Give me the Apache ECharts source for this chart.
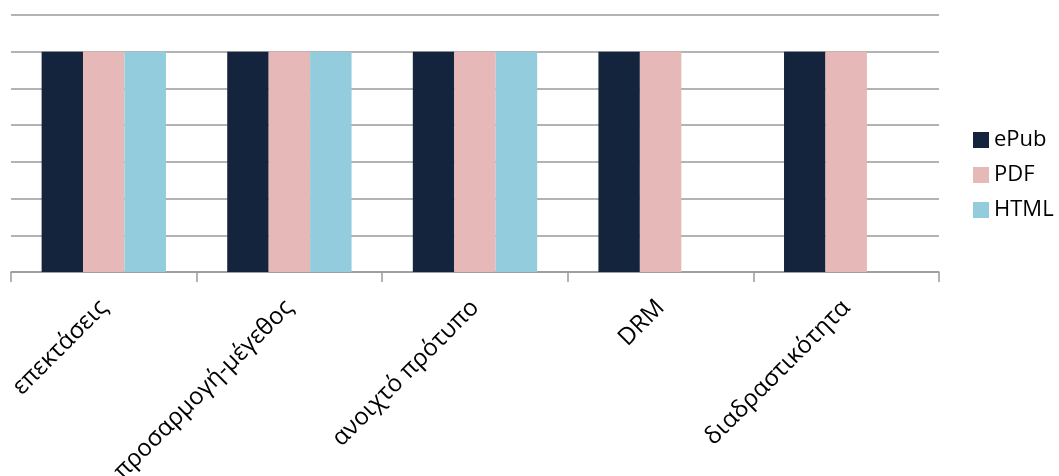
<!DOCTYPE html>
<html>
<head>
<meta charset="utf-8">
<script src="https://cdn.jsdelivr.net/npm/echarts@6/dist/echarts.min.js"></script>
<style>html,body{margin:0;padding:0;background:#fff}#c{width:1059px;height:476px}</style>
</head>
<body>
<div id="c"></div>
<script>
const categories = ['επεκτάσεις', 'προσαρμογή-μέγεθος', 'ανοιχτό πρότυπο', 'DRM', 'διαδραστικότητα'];
const seriesNames = ['ePub', 'PDF', 'HTML'];
const epub = [6, 6, 6, 6, 6];
const pdf = [6, 6, 6, 6, 6];
const html = [6, 6, 6, null, null];
const colors = ['#14243c', '#e6b8b7', '#93cddd'];

const chart = echarts.init(document.getElementById('c'));
const font = '"Open Sans", "Noto Sans", sans-serif';
chart.setOption({
  animation: false,
  grid: { left: 11, right: 120, top: 15, bottom: 204, containLabel: false, outerBoundsMode: 'none' },
  legend: {
    orient: 'vertical', left: 968, top: 124,
    itemWidth: 16, itemHeight: 16, itemGap: 13,
    icon: 'rect',
    textStyle: { fontFamily: font, fontSize: 22, color: '#000', padding: [0, 0, 0, 0] },
    data: seriesNames
  },
  xAxis: {
    type: 'category', data: categories,
    axisLine: { lineStyle: { color: '#9a9a9a', width: 1.5 } },
    axisTick: { show: true, length: 10, lineStyle: { color: '#9a9a9a', width: 1.5 } },
    axisLabel: { rotate: 45, interval: 0, fontFamily: font, fontSize: 24, color: '#000', margin: 32 }
  },
  yAxis: {
    type: 'value', min: 0, max: 7, interval: 1,
    axisLine: { show: false }, axisTick: { show: false }, axisLabel: { show: false },
    splitLine: { lineStyle: { color: '#9a9a9a', width: 1.5 } }
  },
  series: [
    { name: seriesNames[0], type: 'bar', data: epub, itemStyle: { color: colors[0] }, barGap: '0%', barCategoryGap: '33%' },
    { name: seriesNames[1], type: 'bar', data: pdf, itemStyle: { color: colors[1] }, barGap: '0%', barCategoryGap: '33%' },
    { name: seriesNames[2], type: 'bar', data: html, itemStyle: { color: colors[2] }, barGap: '0%', barCategoryGap: '33%' }
  ]
});
</script>
</body>
</html>
